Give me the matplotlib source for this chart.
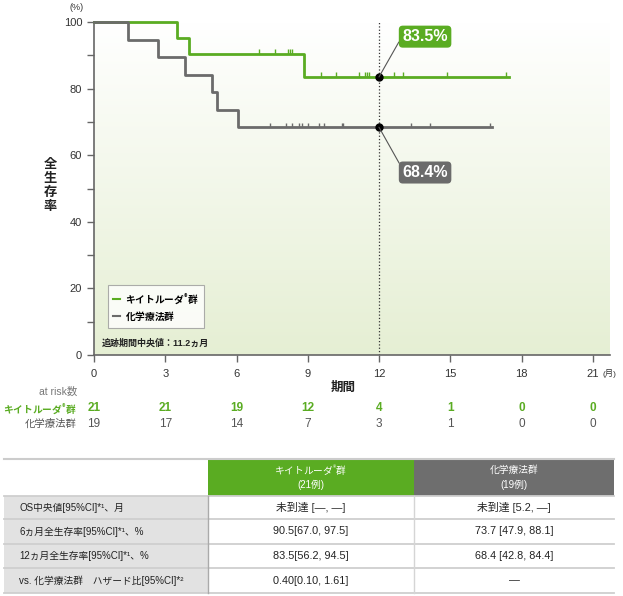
import numpy as np
import matplotlib
matplotlib.use("Agg")
import matplotlib.pyplot as plt
import matplotlib.transforms as mtransforms
from matplotlib.patches import Rectangle

plt.rcParams['font.family'] = ['Liberation Sans', 'Noto Sans CJK JP', 'DejaVu Sans']
plt.rcParams['mathtext.fontset'] = 'custom'
plt.rcParams['mathtext.rm'] = 'Noto Sans CJK JP'
plt.rcParams['mathtext.bf'] = 'Noto Sans CJK JP:bold'

W, H = 623, 596
GREEN = '#5aac22'
GRAY = '#6b6b6b'
AXIS = '#666666'

# --- data ---
group_names = ['キイトルーダ®群', '化学療法群']
# same names with a raised ® for display
key_bold = r'$\mathbf{キイトルーダ}^{\mathbf{®}}\mathbf{群}$'
key_reg = r'$\mathrm{キイトルーダ}^{\mathrm{®}}\mathrm{群}$'

keytruda_drop_t = [3.48, 4.0, 8.86]
keytruda_drop_s = [95.2, 90.5, 83.5]
keytruda_end = 17.46
keytruda_censor = [6.96, 7.62, 8.16, 8.25, 8.35, 9.54, 10.17, 11.17, 11.41,
                   11.49, 11.59, 12.63, 13.0, 14.88, 17.35]

chemo_drop_t = [1.42, 2.71, 3.83, 4.98, 5.19, 6.08]
chemo_drop_s = [94.7, 89.5, 84.2, 78.9, 73.7, 68.4]
chemo_end = 16.74
chemo_censor = [7.41, 8.08, 8.32, 8.63, 8.74, 8.99, 9.47, 9.70, 10.43, 10.47,
                13.33, 14.13, 16.67]

risk_months = [0, 3, 6, 9, 12, 15, 18, 21]
keytruda_risk = [21, 21, 19, 12, 4, 1, 0, 0]
chemo_risk = [19, 17, 14, 7, 3, 1, 0, 0]

landmark = 12
keytruda_at12 = 83.5
chemo_at12 = 68.4

table_header = [key_reg, '化学療法群']
table_n = ['(21例)', '(19例)']
row_labels = ['OS中央値[95%CI]*¹、月',
              '6ヵ月全生存率[95%CI]*¹、%',
              '12ヵ月全生存率[95%CI]*¹、%',
              'vs. 化学療法群　ハザード比[95%CI]*²']
keytruda_vals = ['未到達 [—, —]', '90.5[67.0, 97.5]', '83.5[56.2, 94.5]', '0.40[0.10, 1.61]']
chemo_vals = ['未到達 [5.2, —]', '73.7 [47.9, 88.1]', '68.4 [42.8, 84.4]', '—']


def fx(x):
    return x / W


def fy(y):
    return 1 - y / H


def surv_at(t, drop_t, drop_s):
    s = 100.0
    for dt, ds in zip(drop_t, drop_s):
        if t >= dt:
            s = ds
    return s


fig = plt.figure(figsize=(W / 100, H / 100), dpi=100)
ax = fig.add_axes([fx(94), fy(355), (610 - 94) / W, (355 - 22) / H])
ax.set_xlim(0, 516 / 23.75)
ax.set_ylim(0, 100)

# background gradient
grad = np.linspace(0, 1, 256).reshape(-1, 1, 1)
top = np.array([1.0, 1.0, 1.0])
bot = np.array([0.90, 0.937, 0.83])
img = top + (bot - top) * grad
ax.imshow(img, extent=[0, 1, 0, 1], transform=ax.transAxes, aspect='auto', zorder=0)

curves = [
    (keytruda_drop_t, keytruda_drop_s, keytruda_end, keytruda_censor, GREEN),
    (chemo_drop_t, chemo_drop_s, chemo_end, chemo_censor, GRAY),
]
lines = []
for (dt, ds, end, cens, col), name in zip(curves, [key_bold, r'$\mathbf{化学療法群}$']):
    t = [0] + dt + [end]
    s = [100] + ds + [ds[-1]]
    ln, = ax.plot(t, s, drawstyle='steps-post', color=col, lw=2, clip_on=False,
                  zorder=3, label=name)
    lines.append(ln)
    cy = [surv_at(c, dt, ds) for c in cens]
    ax.vlines(cens, cy, np.array(cy) + 1.4, color=col, lw=1, zorder=3)

# landmark line and points
ax.plot([landmark, landmark], [0, 100], ls=':', color='#333333', lw=0.9, zorder=2)
ax.plot([landmark, landmark], [keytruda_at12, chemo_at12], 'o', ms=5, color='black',
        ls='none', zorder=5)

for val, ty, col, rp in [(keytruda_at12, 95.6, GREEN, (0, 0.55)),
                         (chemo_at12, 54.8, GRAY, (0, 0.75))]:
    ax.annotate(f'{val}%', xy=(landmark, val), xytext=(13.94, ty),
                ha='center', va='center', fontsize=11.5, fontweight='bold', color='white',
                bbox=dict(boxstyle='round,pad=0.22,rounding_size=0.25', fc=col, ec='none'),
                arrowprops=dict(arrowstyle='-', color='#555555', lw=0.8,
                                shrinkA=0, shrinkB=0, relpos=rp),
                zorder=6)

# axes styling
for sp in ['top', 'right']:
    ax.spines[sp].set_visible(False)
for sp in ['left', 'bottom']:
    ax.spines[sp].set_color(AXIS)
    ax.spines[sp].set_linewidth(1.2)
ax.set_xticks(risk_months)
ax.set_yticks(range(0, 101, 20))
ax.set_yticks(range(10, 100, 20), minor=True)
ax.tick_params(which='both', direction='out', length=5, width=1, color=AXIS,
               labelcolor='#333333', labelsize=8)
ax.tick_params(axis='x', pad=5)

fig.text(fx(77), fy(8), '(%)', ha='center', va='center', fontsize=6.5, color='#333333')
fig.text(fx(609), fy(373), '(月)', ha='center', va='center', fontsize=6, color='#333333')
fig.text(fx(50), fy(186), '全\n生\n存\n率', ha='center', va='center', fontsize=9.5,
         fontweight='bold', linespacing=1.2, color='#222222')
fig.text(fx(343), fy(388), '期間', ha='center', va='center', fontsize=9,
         fontweight='bold', color='#222222')

leg = ax.legend(handles=lines, loc='upper left', bbox_to_anchor=(fx(108), fy(285)),
                bbox_transform=fig.transFigure, borderaxespad=0, handlelength=0.7,
                handletextpad=0.5, frameon=True, fancybox=False, edgecolor='#999999',
                borderpad=0.55, labelspacing=0.35, prop=dict(weight='bold', size=7))
leg.get_frame().set_linewidth(0.8)
for h in leg.legend_handles:
    h.set_linewidth(1.5)

fig.text(fx(102), fy(343), '追跡期間中央値：11.2ヵ月', ha='left', va='center',
         fontsize=6.5, fontweight='bold', color='#222222')

# at risk table
bt = mtransforms.blended_transform_factory(ax.transData, fig.transFigure)
fig.text(fx(77), fy(392), 'at risk数', ha='right', va='center', fontsize=7.5, color='#777777')
fig.text(fx(77), fy(408), key_bold, ha='right', va='center', fontsize=7, color=GREEN)
fig.text(fx(77), fy(424), group_names[1], ha='right', va='center', fontsize=7.5, color='#555555')
for m, k, c in zip(risk_months, keytruda_risk, chemo_risk):
    ax.text(m, fy(408), str(k), transform=bt, ha='center', va='center', fontsize=8.5,
            color=GREEN, fontweight='bold')
    ax.text(m, fy(424), str(c), transform=bt, ha='center', va='center', fontsize=8.5,
            color='#555555')

# summary table
cols = [4, 208, 414, 614]
rows = [459, 496, 519, 544, 568, 593]


def rect(x0, y0, x1, y1, color):
    fig.add_artist(Rectangle((fx(x0), fy(y1)), (x1 - x0) / W, (y1 - y0) / H,
                             transform=fig.transFigure, fc=color, ec='none'))


def hline(y, x0, x1, color, lw):
    fig.add_artist(plt.Line2D([fx(x0), fx(x1)], [fy(y), fy(y)], color=color, lw=lw,
                              transform=fig.transFigure))


def vline(x, y0, y1, color, lw):
    fig.add_artist(plt.Line2D([fx(x), fx(x)], [fy(y0), fy(y1)], color=color, lw=lw,
                              transform=fig.transFigure))


rect(cols[1], rows[0], cols[2], rows[1], GREEN)
rect(cols[2], rows[0], cols[3], rows[1], '#6e6e6e')
rect(cols[0], rows[1], cols[1], rows[-1], '#e2e2e2')
hline(rows[0], cols[0], cols[3], '#cccccc', 1.5)
for r in rows[1:]:
    hline(r, cols[0], cols[3], '#cfcfcf', 1.3)
vline(cols[1], rows[1], rows[-1], '#aaaaaa', 1)
vline(cols[2], rows[1], rows[-1], '#d5d5d5', 1)

for i, (head, n) in enumerate(zip(table_header, table_n)):
    xc = fx((cols[i + 1] + cols[i + 2]) / 2)
    fig.text(xc, fy(470), head, ha='center', va='center', fontsize=7, color='white')
    fig.text(xc, fy(485), n, ha='center', va='center', fontsize=7, color='white')

for j, (lab, kv, cv) in enumerate(zip(row_labels, keytruda_vals, chemo_vals)):
    yc = fy((rows[j + 1] + rows[j + 2]) / 2)
    fig.text(fx(19), yc, lab, ha='left', va='center', fontsize=7, color='#222222')
    fig.text(fx((cols[1] + cols[2]) / 2), yc, kv, ha='center', va='center',
             fontsize=7.8, color='#222222')
    fig.text(fx((cols[2] + cols[3]) / 2), yc, cv, ha='center', va='center',
             fontsize=7.8, color='#222222')

fig.savefig('out.png', dpi=100)
